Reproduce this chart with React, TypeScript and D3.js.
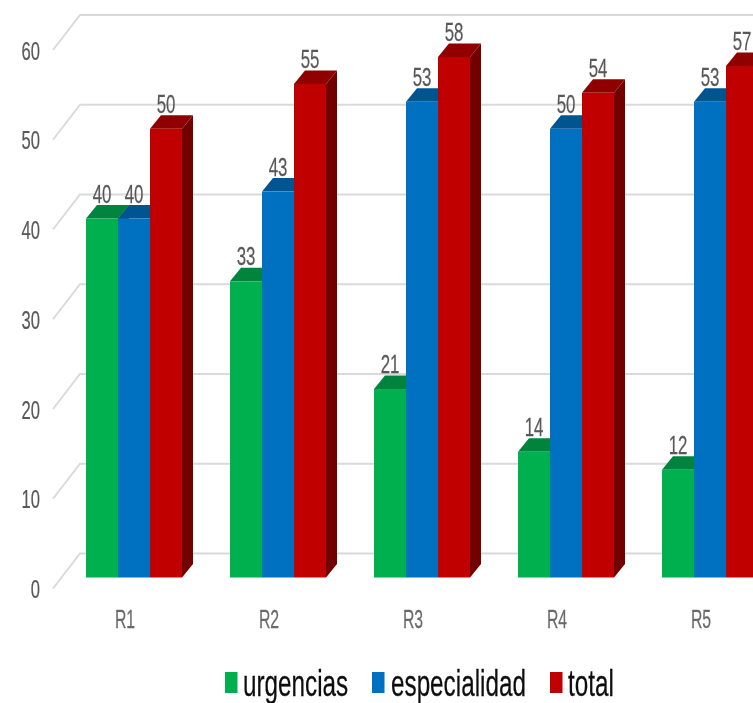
import React from "react";
import * as d3 from "d3";

const categories = ["R1", "R2", "R3", "R4", "R5"];
const urgencias = [40, 33, 21, 14, 12];
const especialidad = [40, 43, 53, 50, 53];
const total = [50, 55, 58, 54, 57];
const yTicks = [0, 10, 20, 30, 40, 50, 60];

const seriesList = [
  { name: "urgencias", values: urgencias, front: "#00B050", top: "#00843C", side: "#006A30" },
  { name: "especialidad", values: especialidad, front: "#0070C0", top: "#005490", side: "#004373" },
  { name: "total", values: total, front: "#C00000", top: "#900000", side: "#730000" },
];

const W = 753, H = 703;
const depthX = 11, depthY = 13.5;
const barW = 32;
const y = d3.scaleLinear().domain([0, 60]).range([577.5, 39]);
const x = d3.scalePoint<string>().domain(categories).range([86, 662]);
const font = "'Liberation Sans', Arial, sans-serif";

function Txt(p: { x: number; y: number; size: number; sx: number; anchor?: string; fill: string; children: any }) {
  return (
    <text
      transform={`translate(${p.x},${p.y}) scale(${p.sx},1)`}
      fontSize={p.size}
      fontFamily={font}
      textAnchor={p.anchor ?? "middle"}
      fill={p.fill}
      stroke={p.fill}
      strokeWidth={0.25}
    >
      {p.children}
    </text>
  );
}

const legend = [
  { name: "urgencias", color: "#00B050", sx: 225, tx: 243 },
  { name: "especialidad", color: "#0070C0", sx: 372, tx: 391 },
  { name: "total", color: "#C00000", sx: 550, tx: 568 },
];

export default function App() {
  return (
    <svg width={W} height={H} viewBox={`0 0 ${W} ${H}`} style={{ position: "absolute", left: 0, top: 0, background: "#fff" }}>
      <defs>
        <filter id="soft" filterUnits="userSpaceOnUse" x="0" y="0" width={W} height={H}>
          <feGaussianBlur stdDeviation="0.5" />
        </filter>
      </defs>
      <g filter="url(#soft)">
        {yTicks.map((t) => {
          const front = y(t) + 11;
          const back = y(t) - 24;
          return (
            <g key={t}>
              <polyline
                points={`53,${front} 80,${back} ${W},${back}`}
                fill="none"
                stroke="#DADADA"
                strokeWidth={2}
              />
              <Txt x={40} y={front + 9.5} size={25.5} sx={0.65} anchor="end" fill="#595959">{t}</Txt>
            </g>
          );
        })}
        {categories.map((c, i) => {
          const x0 = x(c)!;
          return (
            <g key={c}>
              {seriesList.map((s, j) => {
                const l = x0 + j * barW;
                const r = l + barW;
                const yt = y(s.values[i]);
                const yb = y(0);
                return (
                  <g key={s.name}>
                    <path d={`M${r},${yt}L${r + depthX},${yt - depthY}L${r + depthX},${yb - depthY}L${r},${yb}Z`} fill={s.side} />
                    <path d={`M${l},${yt}L${l + depthX},${yt - depthY}L${r + depthX},${yt - depthY}L${r},${yt}Z`} fill={s.top} />
                    <rect x={l} y={yt} width={barW} height={yb - yt} fill={s.front} />
                  </g>
                );
              })}
              {seriesList.map((s, j) => (
                <Txt key={s.name} x={x0 + j * barW + barW / 2} y={y(s.values[i]) - 16} size={25.5} sx={0.66} fill="#595959">
                  {s.values[i]}
                </Txt>
              ))}
              <Txt x={x0 + 39} y={628} size={25.5} sx={0.62} fill="#6A6A6A">{c}</Txt>
            </g>
          );
        })}
        {legend.map((l) => (
          <g key={l.name}>
            <rect x={l.sx} y={672} width={12.5} height={21} fill={l.color} />
            <Txt x={l.tx} y={695.5} size={36.5} sx={0.665} anchor="start" fill="#111">{l.name}</Txt>
          </g>
        ))}
      </g>
    </svg>
  );
}
